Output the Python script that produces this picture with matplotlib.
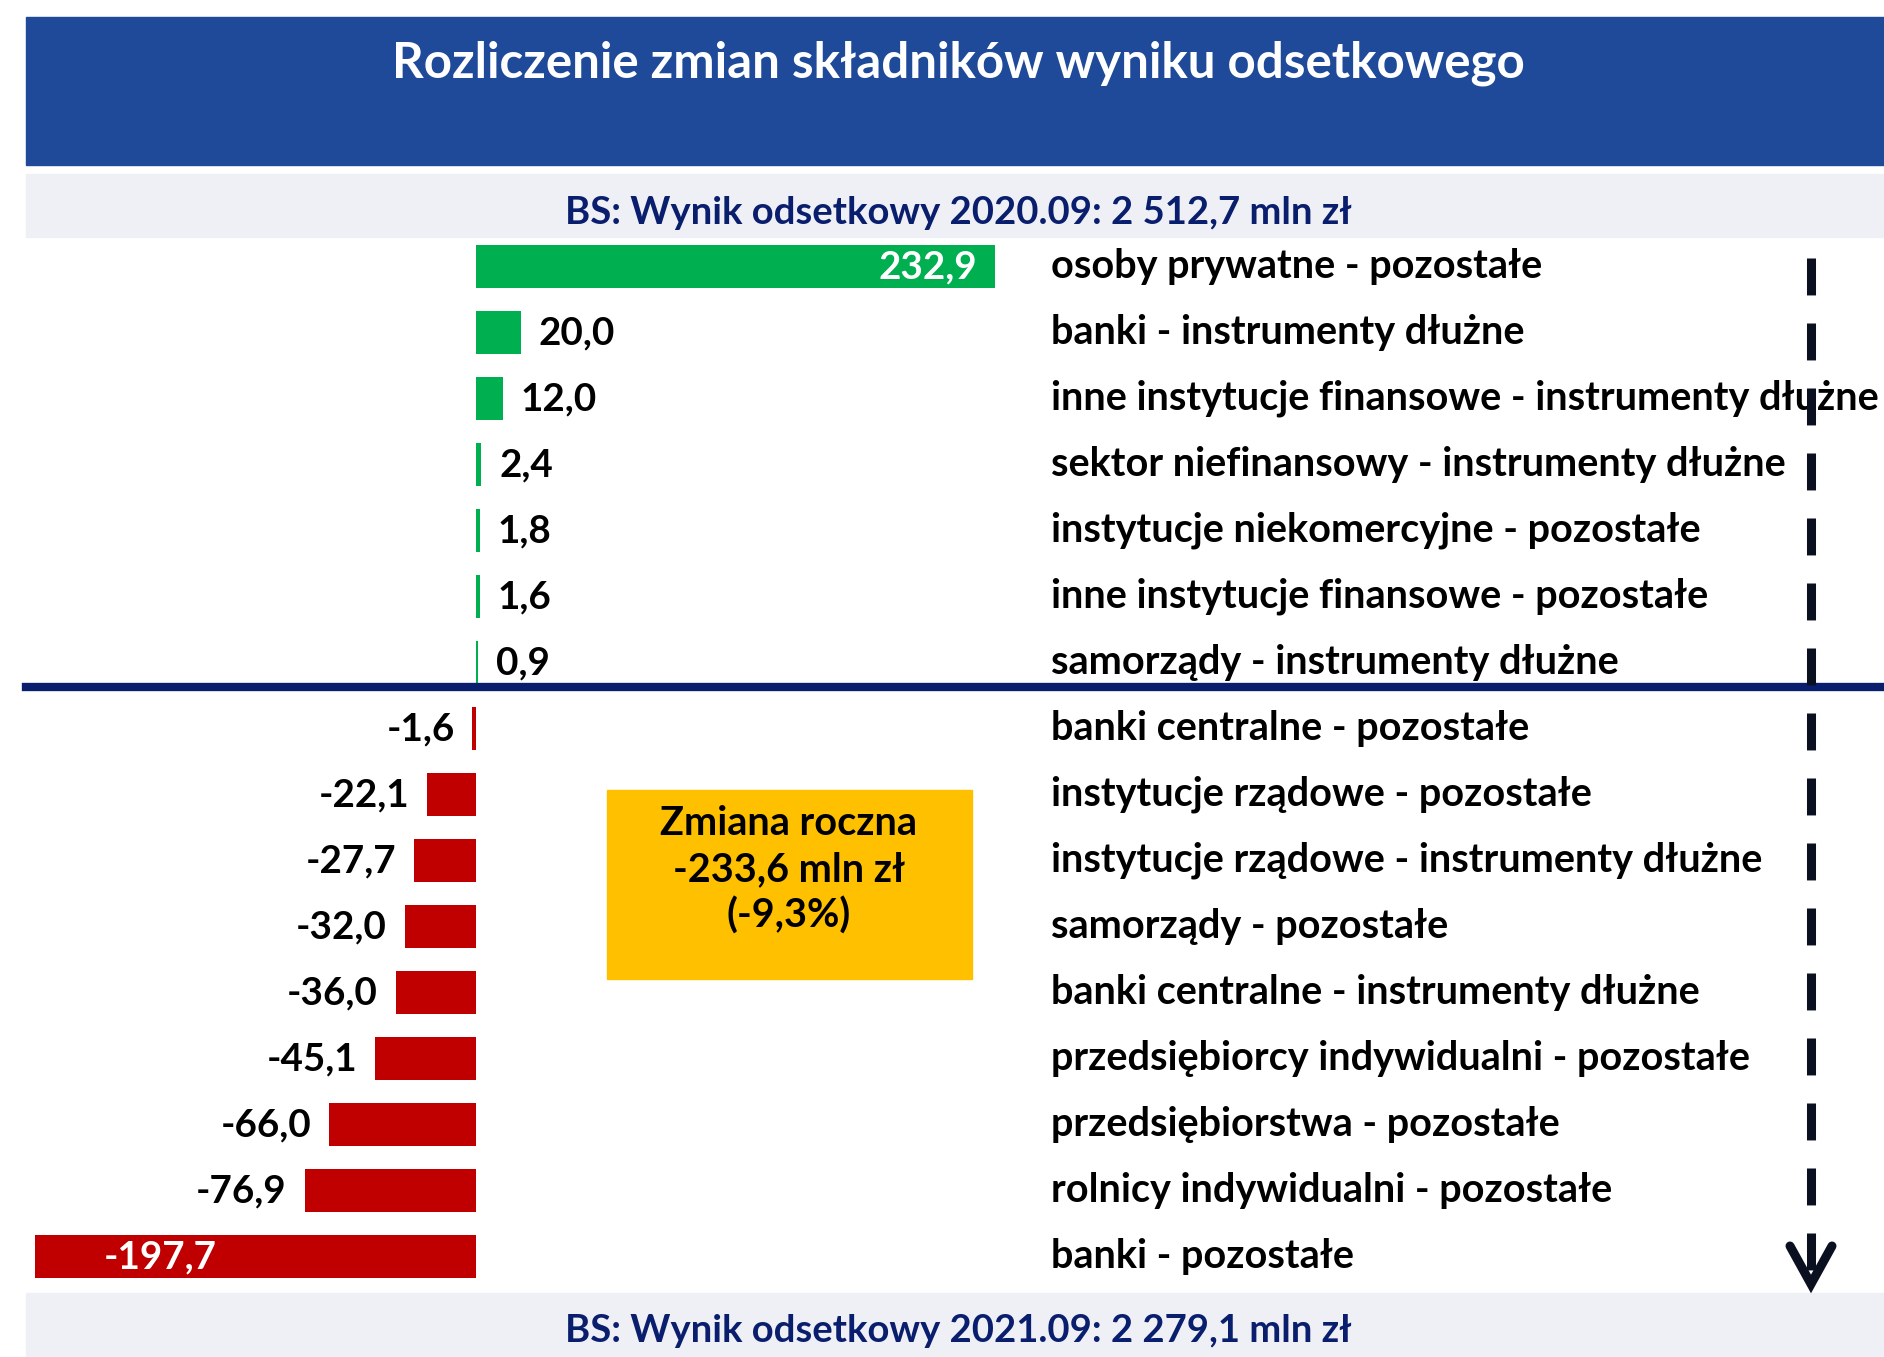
import matplotlib
matplotlib.use("Agg")
from matplotlib import pyplot as plt
from matplotlib.patches import Rectangle
import matplotlib.transforms as mtransforms

plt.rcParams['font.family'] = ['Lato', 'DejaVu Sans']
plt.rcParams['font.weight'] = 'bold'

title = "Rozliczenie zmian składników wyniku odsetkowego"
top_note = "BS: Wynik odsetkowy 2020.09: 2 512,7 mln zł"
bottom_note = "BS: Wynik odsetkowy 2021.09: 2 279,1 mln zł"
box_text = "Zmiana roczna\n-233,6 mln zł\n(-9,3%)"

categories = [
    "osoby prywatne - pozostałe",
    "banki - instrumenty dłużne",
    "inne instytucje finansowe - instrumenty dłużne",
    "sektor niefinansowy - instrumenty dłużne",
    "instytucje niekomercyjne - pozostałe",
    "inne instytucje finansowe - pozostałe",
    "samorządy - instrumenty dłużne",
    "banki centralne - pozostałe",
    "instytucje rządowe - pozostałe",
    "instytucje rządowe - instrumenty dłużne",
    "samorządy - pozostałe",
    "banki centralne - instrumenty dłużne",
    "przedsiębiorcy indywidualni - pozostałe",
    "przedsiębiorstwa - pozostałe",
    "rolnicy indywidualni - pozostałe",
    "banki - pozostałe",
]
values = [232.9, 20.0, 12.0, 2.4, 1.8, 1.6, 0.9,
          -1.6, -22.1, -27.7, -32.0, -36.0, -45.1, -66.0, -76.9, -197.7]

green = "#00B050"
red = "#C00000"
navy = "#0A1E6E"
band_blue = "#1F4A99"
band_gray = "#EFF0F5"
yellow = "#FFC000"

W, H = 1884, 1357
fig = plt.figure(figsize=(W / 100, H / 100), dpi=100)
ax = fig.add_axes([0, 0, 1, 1])
ax.set_xlim(-213.6, 631.9)
ax.set_ylim(16.52, -4.04)
ax.axis("off")

rows = list(range(len(values)))
colors = [green if v > 0 else red for v in values]
ax.barh(rows, values, height=0.66, color=colors, zorder=2)

fs_val = 27.8
fs_cat = 28.5
off = 8  # gap between bar end and label, in data units
for r, v in zip(rows, values):
    s = f"{v:.1f}".replace(".", ",")
    if v == max(values):
        ax.text(v - off, r, s, ha="right", va="center", color="white", fontsize=fs_val)
    elif v == min(values):
        ax.text(v + 30.6, r, s, ha="left", va="center", color="white", fontsize=fs_val)
    elif v > 0:
        ax.text(v + off, r, s, ha="left", va="center", color="black", fontsize=fs_val)
    else:
        ax.text(v - off, r, s, ha="right", va="center", color="black", fontsize=fs_val)

blend = mtransforms.blended_transform_factory(ax.transAxes, ax.transData)
for r, c in zip(rows, categories):
    ax.text(1051 / W, r, c, transform=blend, ha="left", va="center",
            color="black", fontsize=fs_cat)

# separator between gains and losses
n_pos = sum(1 for v in values if v > 0)
ax.axhline(n_pos - 0.63, xmin=26 / W, xmax=1, color=navy, linewidth=6, zorder=3)

# header bands
ax.add_patch(Rectangle((26 / W, 1 - 165 / H), 1, 148 / H, transform=ax.transAxes,
                       color=band_blue, zorder=1))
ax.add_patch(Rectangle((26 / W, 1 - 237 / H), 1, 63 / H, transform=ax.transAxes,
                       color=band_gray, zorder=1))
ax.add_patch(Rectangle((26 / W, 0), 1, 64 / H, transform=ax.transAxes,
                       color=band_gray, zorder=1))
ax.text(958 / W, 1 - 63 / H, title, transform=ax.transAxes, ha="center",
        va="center", color="white", fontsize=35.5)
ax.text(958 / W, 1 - 213 / H, top_note, transform=ax.transAxes, ha="center",
        va="center", color=navy, fontsize=27.5)
ax.text(958 / W, 1 - 1331 / H, bottom_note, transform=ax.transAxes, ha="center",
        va="center", color=navy, fontsize=27.5)

# yellow summary box
ax.add_patch(Rectangle((607 / W, 1 - 979 / H), 365 / W, 189 / H,
                       transform=ax.transAxes, color=yellow, zorder=2))
ax.text(789 / W, 1 - 870 / H, box_text, transform=ax.transAxes, ha="center",
        va="center", multialignment="center", color="black", fontsize=fs_cat,
        linespacing=1.28, zorder=3)

# dashed arrow on the right
xa = 1811 / W
lw = 6.5
ax.plot([xa, xa], [1 - 258 / H, 1 - 1278 / H], transform=ax.transAxes,
        color="#0B1020", linewidth=lw, dashes=(26.6 / lw, 20.2 / lw),
        solid_capstyle="butt", dash_capstyle="butt", zorder=4)
tip = 1 - 1284 / H
ax.plot([xa - 21 / W, xa, xa + 21 / W], [tip + 38 / H, tip, tip + 38 / H],
        transform=ax.transAxes, color="#0B1020", linewidth=lw,
        solid_capstyle="round", solid_joinstyle="miter", zorder=4)

fig.savefig("out.png", dpi=100)
